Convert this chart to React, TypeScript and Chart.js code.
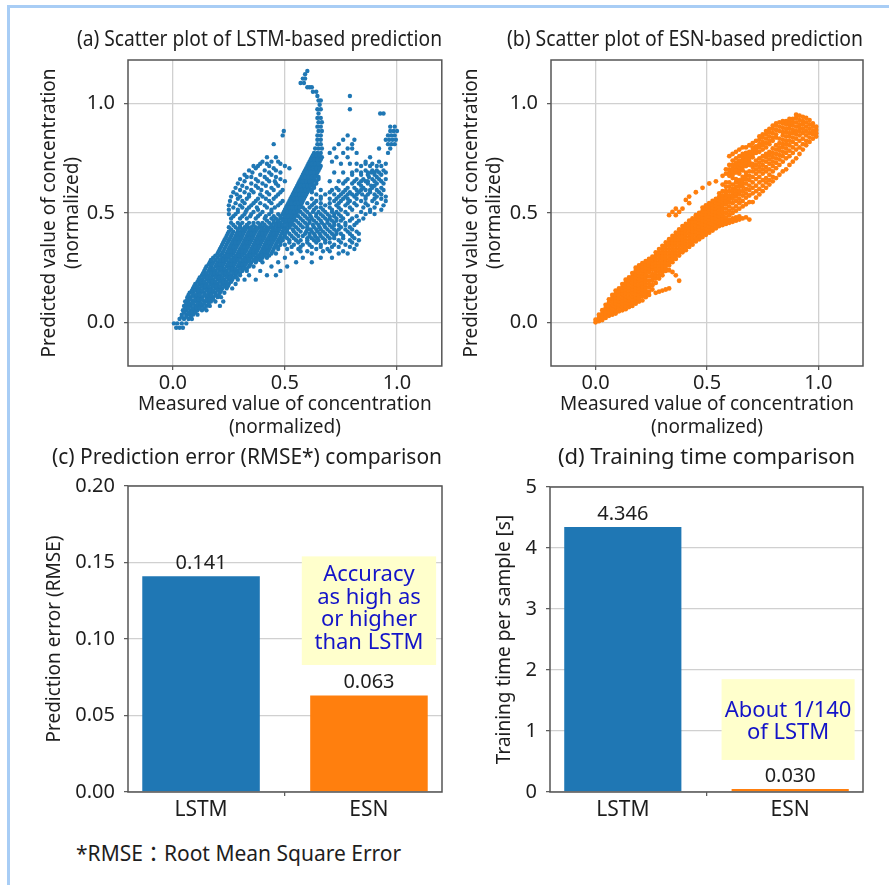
import React, { useEffect, useRef } from "react";
import { Chart, registerables } from "chart.js";

Chart.register(...registerables);

type Row = [number, number[]];

// ---------------- data ----------------
const scatterTicks = [0, 0.5, 1.0];
const barCategories = ["LSTM", "ESN"];
const barPositions = [0, 1];
const rmseValues = [0.141, 0.063];
const rmseTicks = [0, 0.05, 0.1, 0.15, 0.2];
const timeValues = [4.346, 0.03];
const timeTicks = [0, 1, 2, 3, 4, 5];
const rmseNote = ["Accuracy", "as high as", "or higher", "than LSTM"];
const timeNote = ["About 1/140", "of LSTM"];

// LSTM scatter, rows of [predicted y, measured x values]
const lstmLowerRows: Row[] = [
  [-0.025, [0.015, 0.03, 0.045]],
  [-0.005, [0.005, 0.02, 0.04, 0.06]],
  [0.015, [0.03, 0.05, 0.07, 0.085]],
  [0.035, [0.04, 0.06, 0.075, 0.09, 0.11]],
  [0.055, [0.045, 0.06, 0.08, 0.095, 0.11, 0.13, 0.15]],
  [0.075, [0.05, 0.065, 0.08, 0.1, 0.115, 0.13, 0.15, 0.165, 0.21]],
  [0.095, [0.055, 0.07, 0.09, 0.105, 0.12, 0.14, 0.155, 0.17, 0.19, 0.225]],
  [0.115, [0.065, 0.08, 0.1, 0.115, 0.13, 0.15, 0.165, 0.18, 0.2, 0.215]],
  [0.135, [0.075, 0.09, 0.11, 0.125, 0.14, 0.16, 0.175, 0.19, 0.21, 0.23]],
  [0.155, [0.09, 0.105, 0.12, 0.14, 0.155, 0.17, 0.19, 0.205, 0.22, 0.24, 0.265]],
  [0.175, [0.1, 0.12, 0.135, 0.15, 0.17, 0.185, 0.2, 0.22, 0.235, 0.25, 0.28]],
  [0.195, [0.115, 0.13, 0.15, 0.165, 0.18, 0.2, 0.215, 0.23, 0.25, 0.265, 0.29, 0.32, 0.37]],
  [0.215, [0.13, 0.145, 0.16, 0.18, 0.195, 0.21, 0.23, 0.245, 0.26, 0.28, 0.3, 0.34, 0.42, 0.46]],
  [0.235, [0.14, 0.16, 0.175, 0.19, 0.21, 0.225, 0.24, 0.26, 0.275, 0.29, 0.31, 0.33, 0.39, 0.48]],
  [0.255, [0.15, 0.17, 0.19, 0.205, 0.22, 0.24, 0.255, 0.27, 0.29, 0.305, 0.32, 0.34, 0.36, 0.44, 0.51]],
  [0.275, [0.165, 0.18, 0.2, 0.215, 0.23, 0.25, 0.265, 0.28, 0.3, 0.315, 0.33, 0.35, 0.37, 0.4, 0.47, 0.55, 0.62]],
];

const lstmLowerFillRows: Row[] = [
  [0.025, [0.04, 0.06, 0.08]],
  [0.045, [0.05, 0.07, 0.085, 0.1]],
  [0.065, [0.055, 0.07, 0.09, 0.105, 0.12, 0.14]],
  [0.085, [0.06, 0.075, 0.09, 0.11, 0.125, 0.14, 0.16]],
  [0.105, [0.065, 0.08, 0.1, 0.115, 0.13, 0.15, 0.165, 0.18]],
  [0.125, [0.07, 0.09, 0.105, 0.12, 0.14, 0.155, 0.17, 0.19, 0.205]],
  [0.145, [0.085, 0.1, 0.115, 0.13, 0.15, 0.165, 0.18, 0.2, 0.215]],
  [0.165, [0.095, 0.11, 0.13, 0.145, 0.16, 0.18, 0.195, 0.21, 0.23, 0.245]],
  [0.185, [0.11, 0.125, 0.14, 0.16, 0.175, 0.19, 0.21, 0.225, 0.24, 0.26]],
  [0.205, [0.12, 0.14, 0.155, 0.17, 0.19, 0.205, 0.22, 0.24, 0.255, 0.27, 0.285]],
  [0.225, [0.135, 0.15, 0.17, 0.185, 0.2, 0.22, 0.235, 0.25, 0.27, 0.285, 0.3]],
  [0.245, [0.145, 0.165, 0.18, 0.2, 0.215, 0.23, 0.25, 0.265, 0.28, 0.3, 0.315, 0.33]],
  [0.265, [0.16, 0.175, 0.195, 0.21, 0.225, 0.245, 0.26, 0.275, 0.295, 0.31, 0.325, 0.345]],
];

const lstmMiddleRows: Row[] = [
  [0.295, [0.18, 0.2, 0.22, 0.235, 0.25, 0.27, 0.285, 0.3, 0.32, 0.335, 0.35, 0.37, 0.385, 0.4, 0.42, 0.5, 0.58, 0.66, 0.71]],
  [0.315, [0.2, 0.22, 0.24, 0.255, 0.27, 0.29, 0.305, 0.32, 0.34, 0.355, 0.37, 0.39, 0.405, 0.42, 0.44, 0.46, 0.53, 0.62, 0.74, 0.78]],
  [0.335, [0.21, 0.23, 0.25, 0.265, 0.28, 0.3, 0.315, 0.33, 0.35, 0.365, 0.38, 0.4, 0.415, 0.43, 0.45, 0.47, 0.51, 0.56, 0.64, 0.69, 0.81]],
  [0.355, [0.22, 0.24, 0.26, 0.275, 0.29, 0.31, 0.325, 0.34, 0.36, 0.375, 0.39, 0.41, 0.425, 0.44, 0.46, 0.48, 0.5, 0.54, 0.58, 0.61, 0.66, 0.72, 0.77, 0.82]],
  [0.375, [0.23, 0.25, 0.27, 0.285, 0.3, 0.32, 0.335, 0.35, 0.37, 0.385, 0.4, 0.42, 0.435, 0.45, 0.47, 0.49, 0.52, 0.55, 0.57, 0.6, 0.63, 0.65, 0.68, 0.74, 0.79, 0.83]],
  [0.395, [0.24, 0.26, 0.28, 0.295, 0.31, 0.33, 0.345, 0.36, 0.38, 0.395, 0.41, 0.43, 0.445, 0.46, 0.48, 0.5, 0.53, 0.56, 0.58, 0.61, 0.635, 0.66, 0.69, 0.72, 0.76, 0.8]],
  [0.415, [0.25, 0.27, 0.29, 0.305, 0.32, 0.34, 0.355, 0.37, 0.39, 0.405, 0.42, 0.44, 0.455, 0.47, 0.49, 0.51, 0.54, 0.57, 0.595, 0.62, 0.645, 0.67, 0.7, 0.73, 0.78, 0.82]],
  [0.435, [0.25, 0.28, 0.3, 0.32, 0.335, 0.35, 0.37, 0.385, 0.4, 0.42, 0.435, 0.45, 0.47, 0.485, 0.5, 0.52, 0.55, 0.58, 0.6, 0.63, 0.655, 0.68, 0.71, 0.75, 0.79]],
  [0.455, [0.26, 0.29, 0.31, 0.34, 0.36, 0.38, 0.4, 0.43, 0.45, 0.465, 0.48, 0.5, 0.515, 0.53, 0.56, 0.59, 0.61, 0.64, 0.665, 0.69, 0.72, 0.77, 0.82]],
  [0.475, [0.26, 0.3, 0.33, 0.37, 0.41, 0.44, 0.46, 0.48, 0.495, 0.51, 0.525, 0.54, 0.57, 0.6, 0.62, 0.65, 0.68, 0.7, 0.73, 0.76, 0.8, 0.85]],
  [0.495, [0.25, 0.28, 0.32, 0.35, 0.39, 0.43, 0.47, 0.49, 0.505, 0.52, 0.535, 0.55, 0.58, 0.61, 0.64, 0.66, 0.69, 0.72, 0.74, 0.78, 0.86, 0.9]],
];

const lstmMiddleFillRows: Row[] = [
  [0.285, [0.17, 0.19, 0.21, 0.225, 0.24, 0.26, 0.275, 0.29, 0.31, 0.325, 0.34, 0.36, 0.375, 0.39]],
  [0.305, [0.19, 0.21, 0.23, 0.245, 0.26, 0.28, 0.295, 0.31, 0.33, 0.345, 0.36, 0.38, 0.395, 0.41, 0.43]],
  [0.325, [0.205, 0.225, 0.245, 0.26, 0.275, 0.295, 0.31, 0.325, 0.345, 0.36, 0.375, 0.395, 0.41, 0.425, 0.445]],
  [0.345, [0.215, 0.235, 0.255, 0.27, 0.285, 0.305, 0.32, 0.335, 0.355, 0.37, 0.385, 0.405, 0.42, 0.435, 0.455, 0.47]],
  [0.365, [0.225, 0.245, 0.265, 0.28, 0.295, 0.315, 0.33, 0.345, 0.365, 0.38, 0.395, 0.415, 0.43, 0.445, 0.465, 0.48]],
  [0.385, [0.235, 0.255, 0.275, 0.29, 0.305, 0.325, 0.34, 0.355, 0.375, 0.39, 0.405, 0.425, 0.44, 0.455, 0.475, 0.49, 0.6, 0.62, 0.645, 0.67]],
  [0.405, [0.245, 0.265, 0.285, 0.3, 0.315, 0.335, 0.35, 0.365, 0.385, 0.4, 0.415, 0.435, 0.45, 0.465, 0.485, 0.5, 0.59, 0.61, 0.63, 0.655, 0.68, 0.71]],
  [0.425, [0.26, 0.29, 0.31, 0.325, 0.345, 0.36, 0.375, 0.395, 0.41, 0.425, 0.445, 0.46, 0.475, 0.495, 0.51, 0.6, 0.615, 0.64, 0.66, 0.69, 0.72]],
  [0.445, [0.27, 0.3, 0.33, 0.36, 0.39, 0.41, 0.44, 0.46, 0.475, 0.49, 0.51, 0.525, 0.6, 0.625, 0.65, 0.675, 0.7]],
  [0.465, [0.42, 0.45, 0.47, 0.49, 0.505, 0.52, 0.535, 0.61, 0.63, 0.66, 0.69]],
];

// speckled region between the upper-left arc and the core
const lstmSpeckleRows: Row[] = [
  [0.485, [0.27, 0.31, 0.345, 0.38, 0.415, 0.45]],
  [0.505, [0.29, 0.325, 0.36, 0.4, 0.44]],
  [0.525, [0.27, 0.31, 0.34, 0.375, 0.42, 0.455]],
  [0.545, [0.28, 0.32, 0.36, 0.39, 0.44, 0.48]],
  [0.565, [0.29, 0.33, 0.38, 0.415, 0.45]],
  [0.585, [0.285, 0.34, 0.39, 0.43, 0.47]],
  [0.605, [0.3, 0.35, 0.395, 0.45, 0.49]],
  [0.625, [0.31, 0.37, 0.415, 0.47]],
  [0.645, [0.32, 0.38, 0.43, 0.455, 0.5]],
  [0.665, [0.33, 0.35, 0.41, 0.46]],
  [0.685, [0.355, 0.43, 0.48]],
  [0.705, [0.37, 0.45, 0.52]],
  [0.725, [0.39, 0.42, 0.48]],
];

// right lobe and right band
const lstmRightFillRows: Row[] = [
  [0.325, [0.57, 0.6, 0.67, 0.7, 0.76]],
  [0.345, [0.53, 0.57, 0.62, 0.66, 0.71, 0.74, 0.79]],
  [0.365, [0.52, 0.56, 0.6, 0.64, 0.68, 0.7, 0.75, 0.8]],
  [0.385, [0.51, 0.54, 0.7, 0.72, 0.76, 0.81]],
  [0.405, [0.52, 0.55, 0.73, 0.75, 0.79, 0.83]],
  [0.425, [0.535, 0.56, 0.74, 0.77, 0.8]],
  [0.445, [0.54, 0.57, 0.72, 0.74, 0.77, 0.81]],
  [0.465, [0.55, 0.58, 0.71, 0.73, 0.75, 0.79, 0.83]],
  [0.485, [0.56, 0.59, 0.615, 0.64, 0.67, 0.7, 0.72, 0.75, 0.82]],
  [0.505, [0.57, 0.6, 0.625, 0.65, 0.68, 0.71, 0.73, 0.77, 0.84, 0.88]],
  [0.525, [0.58, 0.61, 0.64, 0.66, 0.7, 0.74, 0.79, 0.85, 0.9]],
  [0.545, [0.6, 0.63, 0.66, 0.7, 0.74, 0.78, 0.81, 0.86, 0.91]],
  [0.565, [0.62, 0.66, 0.7, 0.73, 0.76, 0.86, 0.9, 0.93]],
  [0.585, [0.64, 0.68, 0.72, 0.75, 0.78, 0.82, 0.9, 0.93]],
  [0.605, [0.66, 0.71, 0.74, 0.77, 0.84, 0.88, 0.91, 0.94]],
  [0.645, [0.7, 0.74, 0.77, 0.81, 0.84, 0.87, 0.93]],
  [0.685, [0.72, 0.76, 0.8, 0.84, 0.87, 0.9, 0.95]],
  [0.725, [0.75, 0.79, 0.82, 0.86, 0.89, 0.95]],
];

const lstmUpperRows: Row[] = [
  [0.515, [0.25, 0.29, 0.33, 0.38, 0.44, 0.5, 0.515, 0.53, 0.545, 0.56, 0.59, 0.63, 0.67, 0.71, 0.75, 0.8, 0.88, 0.93]],
  [0.535, [0.25, 0.3, 0.35, 0.41, 0.47, 0.51, 0.525, 0.54, 0.555, 0.57, 0.62, 0.68, 0.73, 0.77, 0.82, 0.87, 0.94]],
  [0.555, [0.255, 0.31, 0.37, 0.43, 0.49, 0.52, 0.535, 0.55, 0.565, 0.58, 0.64, 0.72, 0.75, 0.79, 0.84, 0.89, 0.95]],
  [0.575, [0.26, 0.3, 0.34, 0.4, 0.46, 0.53, 0.545, 0.56, 0.575, 0.59, 0.66, 0.74, 0.77, 0.81, 0.86, 0.91, 0.95]],
  [0.595, [0.27, 0.32, 0.36, 0.42, 0.48, 0.54, 0.555, 0.57, 0.585, 0.6, 0.62, 0.7, 0.76, 0.79, 0.83, 0.88, 0.92]],
  [0.615, [0.28, 0.33, 0.38, 0.44, 0.55, 0.565, 0.58, 0.595, 0.61, 0.63, 0.73, 0.78, 0.81, 0.85, 0.89, 0.93]],
  [0.635, [0.29, 0.35, 0.4, 0.46, 0.56, 0.575, 0.59, 0.605, 0.62, 0.64, 0.76, 0.8, 0.83, 0.87, 0.91, 0.94]],
  [0.655, [0.3, 0.37, 0.42, 0.48, 0.57, 0.585, 0.6, 0.615, 0.63, 0.65, 0.78, 0.82, 0.85, 0.89, 0.92, 0.95]],
  [0.675, [0.32, 0.39, 0.44, 0.58, 0.595, 0.61, 0.625, 0.64, 0.8, 0.84, 0.87, 0.9, 0.93]],
  [0.695, [0.34, 0.41, 0.46, 0.59, 0.605, 0.62, 0.635, 0.65, 0.82, 0.86, 0.89, 0.91, 0.94]],
  [0.715, [0.36, 0.38, 0.43, 0.5, 0.6, 0.615, 0.63, 0.645, 0.66, 0.84, 0.88, 0.91, 0.93]],
  [0.735, [0.4, 0.44, 0.47, 0.61, 0.625, 0.64, 0.655, 0.71, 0.86, 0.92]],
  [0.755, [0.42, 0.46, 0.62, 0.635, 0.65, 0.665, 0.73, 0.78, 0.88]],
  [0.775, [0.63, 0.645, 0.66, 0.7, 0.76, 0.82, 0.96]],
  [0.795, [0.635, 0.65, 0.665, 0.72, 0.78, 0.8, 0.92, 0.97]],
];

const lstmRidgeFillRows: Row[] = [
  [0.485, [0.48, 0.5, 0.515, 0.53, 0.545]],
  [0.505, [0.495, 0.51, 0.525, 0.54, 0.555]],
  [0.525, [0.505, 0.52, 0.535, 0.55, 0.565]],
  [0.545, [0.515, 0.53, 0.545, 0.56, 0.575]],
  [0.565, [0.525, 0.54, 0.555, 0.57, 0.585, 0.78, 0.82]],
  [0.585, [0.535, 0.55, 0.565, 0.58, 0.595, 0.8, 0.845, 0.87]],
  [0.605, [0.545, 0.56, 0.575, 0.59, 0.605, 0.62, 0.82, 0.86]],
  [0.625, [0.555, 0.57, 0.585, 0.6, 0.615, 0.63, 0.84, 0.885, 0.9]],
  [0.645, [0.565, 0.58, 0.595, 0.61, 0.625, 0.64, 0.86, 0.9]],
  [0.665, [0.575, 0.59, 0.605, 0.62, 0.635, 0.65, 0.875, 0.91]],
  [0.685, [0.585, 0.6, 0.615, 0.63, 0.645, 0.885, 0.92]],
  [0.705, [0.595, 0.61, 0.625, 0.64, 0.655]],
  [0.725, [0.605, 0.62, 0.635, 0.65]],
  [0.745, [0.615, 0.63, 0.645, 0.66]],
  [0.765, [0.625, 0.64, 0.655]],
];

const lstmTopRows: Row[] = [
  [0.815, [0.45, 0.645, 0.66, 0.74, 0.8, 0.96, 0.975, 0.99]],
  [0.835, [0.645, 0.66, 0.76, 0.81, 0.95, 0.965, 0.98, 0.995]],
  [0.855, [0.49, 0.645, 0.66, 0.78, 0.96, 0.975, 0.99]],
  [0.875, [0.495, 0.65, 0.665, 0.97, 0.985, 1.0]],
  [0.895, [0.645, 0.66, 0.97, 0.99]],
  [0.915, [0.65, 0.665]],
  [0.935, [0.645, 0.66]],
  [0.955, [0.65, 0.925, 0.94]],
  [0.975, [0.645, 0.66, 0.79]],
  [0.995, [0.655]],
  [1.015, [0.65, 0.66]],
  [1.035, [0.645, 0.79]],
  [1.055, [0.64, 0.625]],
  [1.075, [0.61, 0.62, 0.6]],
  [1.095, [0.57, 0.585]],
  [1.115, [0.58, 0.59]],
  [1.135, [0.59]],
  [1.15, [0.6]],
];

// ESN scatter, columns of [measured x, predicted y values]
const esnLowerCols: Row[] = [
  [0.0, [0.0, 0.012]],
  [0.015, [0.005, 0.02, 0.035]],
  [0.03, [0.01, 0.025, 0.04, 0.055]],
  [0.045, [0.02, 0.035, 0.05, 0.065, 0.08]],
  [0.06, [0.03, 0.045, 0.06, 0.075, 0.09, 0.105]],
  [0.075, [0.035, 0.05, 0.065, 0.08, 0.095, 0.11, 0.125]],
  [0.09, [0.04, 0.055, 0.07, 0.085, 0.1, 0.115, 0.13, 0.145]],
  [0.105, [0.05, 0.065, 0.08, 0.095, 0.11, 0.125, 0.14, 0.155]],
  [0.12, [0.055, 0.07, 0.085, 0.1, 0.115, 0.13, 0.145, 0.16, 0.175]],
  [0.135, [0.06, 0.075, 0.09, 0.105, 0.12, 0.135, 0.15, 0.165, 0.18, 0.195]],
  [0.15, [0.07, 0.085, 0.1, 0.115, 0.13, 0.145, 0.16, 0.175, 0.19, 0.205]],
  [0.165, [0.075, 0.09, 0.105, 0.12, 0.135, 0.15, 0.165, 0.18, 0.195, 0.21, 0.225]],
  [0.18, [0.085, 0.1, 0.115, 0.13, 0.145, 0.16, 0.175, 0.19, 0.205, 0.22, 0.235, 0.25]],
  [0.195, [0.095, 0.11, 0.125, 0.14, 0.155, 0.17, 0.185, 0.2, 0.215, 0.23, 0.245, 0.26]],
  [0.21, [0.1, 0.12, 0.135, 0.15, 0.165, 0.18, 0.195, 0.21, 0.225, 0.24, 0.255, 0.27]],
  [0.225, [0.115, 0.13, 0.145, 0.16, 0.175, 0.19, 0.205, 0.22, 0.235, 0.25, 0.265, 0.28]],
  [0.24, [0.125, 0.14, 0.16, 0.175, 0.19, 0.21, 0.23, 0.245, 0.26, 0.275, 0.29]],
  [0.255, [0.15, 0.17, 0.19, 0.205, 0.22, 0.24, 0.255, 0.27, 0.285, 0.3]],
  [0.27, [0.135, 0.18, 0.2, 0.215, 0.23, 0.245, 0.26, 0.275, 0.29, 0.305, 0.32]],
  [0.285, [0.14, 0.2, 0.215, 0.23, 0.245, 0.26, 0.275, 0.29, 0.305, 0.32, 0.335]],
  [0.3, [0.145, 0.23, 0.215, 0.245, 0.26, 0.275, 0.29, 0.305, 0.32, 0.335, 0.35]],
  [0.315, [0.15, 0.235, 0.245, 0.26, 0.275, 0.29, 0.305, 0.32, 0.335, 0.35, 0.365]],
];

const esnMiddleCols: Row[] = [
  [0.33, [0.155, 0.238, 0.26, 0.275, 0.29, 0.305, 0.32, 0.335, 0.35, 0.365, 0.38, 0.49]],
  [0.345, [0.23, 0.275, 0.29, 0.305, 0.32, 0.335, 0.35, 0.365, 0.38, 0.395, 0.505]],
  [0.36, [0.215, 0.29, 0.305, 0.32, 0.335, 0.35, 0.365, 0.38, 0.395, 0.41, 0.49, 0.52]],
  [0.375, [0.19, 0.305, 0.32, 0.335, 0.35, 0.365, 0.38, 0.395, 0.41, 0.425, 0.505]],
  [0.39, [0.32, 0.335, 0.35, 0.365, 0.38, 0.395, 0.41, 0.425, 0.44, 0.52]],
  [0.405, [0.33, 0.345, 0.36, 0.375, 0.39, 0.405, 0.42, 0.435, 0.45, 0.56]],
  [0.42, [0.345, 0.36, 0.375, 0.39, 0.405, 0.42, 0.435, 0.45, 0.465, 0.545, 0.575]],
  [0.435, [0.355, 0.37, 0.385, 0.4, 0.415, 0.43, 0.445, 0.46, 0.475]],
  [0.45, [0.37, 0.385, 0.4, 0.415, 0.43, 0.445, 0.46, 0.475, 0.49, 0.595]],
  [0.465, [0.38, 0.395, 0.41, 0.425, 0.44, 0.455, 0.47, 0.485, 0.5]],
  [0.48, [0.39, 0.405, 0.42, 0.435, 0.45, 0.465, 0.48, 0.495, 0.51, 0.525, 0.615]],
  [0.495, [0.4, 0.415, 0.43, 0.445, 0.46, 0.475, 0.49, 0.505, 0.52, 0.535]],
  [0.51, [0.41, 0.425, 0.44, 0.455, 0.47, 0.485, 0.5, 0.515, 0.53, 0.545, 0.635]],
  [0.525, [0.42, 0.435, 0.45, 0.465, 0.48, 0.495, 0.51, 0.525, 0.54, 0.555]],
  [0.54, [0.43, 0.445, 0.46, 0.475, 0.49, 0.505, 0.52, 0.535, 0.55, 0.565, 0.645]],
  [0.555, [0.44, 0.455, 0.47, 0.485, 0.5, 0.515, 0.53, 0.545, 0.56, 0.575, 0.59]],
  [0.57, [0.445, 0.46, 0.475, 0.49, 0.505, 0.52, 0.535, 0.55, 0.565, 0.58, 0.6, 0.63, 0.67]],
  [0.585, [0.45, 0.465, 0.48, 0.5, 0.52, 0.54, 0.555, 0.57, 0.585, 0.6, 0.62, 0.64, 0.68, 0.7]],
  [0.6, [0.455, 0.47, 0.49, 0.51, 0.53, 0.55, 0.565, 0.58, 0.6, 0.62, 0.64, 0.67, 0.685, 0.7, 0.72, 0.76]],
  [0.615, [0.46, 0.475, 0.5, 0.52, 0.545, 0.565, 0.58, 0.595, 0.61, 0.63, 0.66, 0.675, 0.69, 0.705, 0.72, 0.74, 0.77]],
  [0.63, [0.465, 0.48, 0.51, 0.53, 0.555, 0.575, 0.59, 0.605, 0.62, 0.64, 0.655, 0.685, 0.7, 0.715, 0.73, 0.75, 0.78]],
  [0.645, [0.47, 0.485, 0.52, 0.545, 0.565, 0.585, 0.6, 0.62, 0.635, 0.65, 0.68, 0.695, 0.71, 0.725, 0.74, 0.76, 0.79]],
];

const esnUpperCols: Row[] = [
  [0.66, [0.475, 0.53, 0.555, 0.58, 0.6, 0.62, 0.635, 0.65, 0.665, 0.695, 0.71, 0.725, 0.74, 0.755, 0.77, 0.8]],
  [0.675, [0.48, 0.54, 0.57, 0.59, 0.61, 0.635, 0.655, 0.67, 0.685, 0.715, 0.73, 0.745, 0.76, 0.775, 0.8]],
  [0.69, [0.47, 0.55, 0.58, 0.605, 0.625, 0.65, 0.67, 0.69, 0.72, 0.735, 0.75, 0.765, 0.78, 0.81]],
  [0.705, [0.55, 0.59, 0.615, 0.64, 0.665, 0.69, 0.71, 0.725, 0.755, 0.77, 0.785, 0.8, 0.82]],
  [0.72, [0.57, 0.6, 0.625, 0.655, 0.68, 0.7, 0.72, 0.74, 0.775, 0.79, 0.805, 0.83]],
  [0.735, [0.585, 0.61, 0.64, 0.665, 0.69, 0.71, 0.73, 0.75, 0.78, 0.8, 0.815, 0.835, 0.85]],
  [0.75, [0.6, 0.625, 0.65, 0.68, 0.7, 0.72, 0.74, 0.76, 0.79, 0.81, 0.825, 0.845, 0.86]],
  [0.765, [0.615, 0.64, 0.66, 0.69, 0.71, 0.735, 0.755, 0.77, 0.8, 0.82, 0.84, 0.86, 0.875]],
  [0.78, [0.63, 0.65, 0.675, 0.7, 0.725, 0.745, 0.765, 0.78, 0.815, 0.83, 0.85, 0.87, 0.885]],
  [0.795, [0.645, 0.665, 0.69, 0.715, 0.735, 0.755, 0.775, 0.795, 0.83, 0.845, 0.865, 0.885, 0.9]],
  [0.81, [0.66, 0.705, 0.73, 0.75, 0.77, 0.79, 0.81, 0.845, 0.86, 0.88, 0.9, 0.91]],
  [0.825, [0.675, 0.72, 0.745, 0.765, 0.785, 0.8, 0.82, 0.84, 0.875, 0.895, 0.915]],
  [0.84, [0.69, 0.735, 0.76, 0.78, 0.8, 0.815, 0.835, 0.855, 0.87, 0.89, 0.91, 0.92]],
  [0.855, [0.7, 0.75, 0.775, 0.795, 0.815, 0.83, 0.85, 0.87, 0.885, 0.905, 0.92]],
  [0.87, [0.72, 0.76, 0.785, 0.81, 0.83, 0.85, 0.865, 0.885, 0.9, 0.915, 0.93]],
  [0.885, [0.735, 0.775, 0.8, 0.825, 0.845, 0.865, 0.88, 0.9, 0.915, 0.93]],
  [0.9, [0.75, 0.79, 0.815, 0.84, 0.86, 0.875, 0.895, 0.915, 0.935, 0.95]],
  [0.915, [0.77, 0.8, 0.83, 0.855, 0.875, 0.89, 0.905, 0.925, 0.945]],
  [0.93, [0.79, 0.815, 0.84, 0.865, 0.885, 0.905, 0.92, 0.94]],
  [0.945, [0.81, 0.83, 0.855, 0.875, 0.895, 0.915, 0.935]],
  [0.96, [0.825, 0.845, 0.865, 0.885, 0.905, 0.925]],
  [0.975, [0.84, 0.86, 0.875, 0.895, 0.91]],
  [0.99, [0.85, 0.865, 0.88, 0.895]],
];

// ---------------- style ----------------
const FONT = '"Noto Sans", "Noto Sans CJK JP", sans-serif';
const TEXT = "#1e1e1e";
const BLUE = "#1f77b4";
const ORANGE = "#ff7f0e";
const GRID = "#d0d0d0";
const FRAME = "#555555";
const NOTE_BG = "#ffffcc";
const NOTE_TEXT = "#1414c8";
const BORDER_BLUE = "#a8cdf5";

Chart.defaults.font.family = FONT;
Chart.defaults.color = TEXT;

function fromRows(rows: Row[]) {
  return rows.flatMap(([y, xs]) => xs.map((x) => ({ x, y })));
}
function fromCols(cols: Row[]) {
  return cols.flatMap(([x, ys]) => ys.map((y) => ({ x, y })));
}

const framePlugin = {
  id: "frame",
  afterDraw(chart: any) {
    const { ctx, chartArea: a } = chart;
    ctx.save();
    ctx.strokeStyle = FRAME;
    ctx.lineWidth = 1.5;
    ctx.strokeRect(a.left, a.top, a.right - a.left, a.bottom - a.top);
    ctx.restore();
  },
};

const barTextPlugin = {
  id: "barText",
  afterDatasetsDraw(chart: any, _args: any, opts: any) {
    const { ctx } = chart;
    const meta = chart.getDatasetMeta(0);
    ctx.save();
    const xs = chart.scales.x;
    const ys = chart.scales.y;
    const [x0, x1, y0, y1] = opts.box;
    const L = xs.getPixelForValue(x0);
    const R = xs.getPixelForValue(x1);
    const T = ys.getPixelForValue(y1);
    const B = ys.getPixelForValue(y0);
    ctx.fillStyle = NOTE_BG;
    ctx.fillRect(L, T, R - L, B - T);
    ctx.fillStyle = NOTE_TEXT;
    ctx.font = `22px ${FONT}`;
    ctx.textAlign = "center";
    ctx.textBaseline = "middle";
    const lines: string[] = opts.lines;
    const cx = (L + R) / 2;
    const cy = (T + B) / 2 + opts.noteShift;
    lines.forEach((ln, i) => {
      ctx.fillText(ln, cx, cy + (i - (lines.length - 1) / 2) * opts.lineHeight);
    });
    ctx.fillStyle = TEXT;
    ctx.font = `20px ${FONT}`;
    const values: number[] = opts.values;
    meta.data.forEach((bar: any, i: number) => {
      ctx.fillText(values[i].toFixed(opts.decimals), bar.x, bar.y - 13);
    });
    ctx.restore();
  },
};

const tickGrid = (onChart: boolean) => ({
  color: GRID,
  lineWidth: 1.3,
  drawOnChartArea: onChart,
  drawTicks: true,
  tickLength: 4,
  tickColor: FRAME,
  tickWidth: 1.2,
});

function titleOpts(text: string, align: string, fullSize: boolean, top: number, bottom: number) {
  return {
    display: true,
    text,
    align,
    fullSize,
    color: TEXT,
    font: { size: 22, weight: "normal", family: FONT, lineHeight: 1.2 },
    padding: { top, bottom },
  };
}

function scatterConfig(opts: {
  title: string;
  points: { x: number; y: number }[];
  color: string;
  radius: number;
  padLeft: number;
  padRight: number;
  yWidth: number;
  yTitlePad: number;
}): any {
  return {
    type: "scatter",
    data: {
      datasets: [
        {
          data: opts.points,
          backgroundColor: opts.color,
          borderWidth: 0,
          pointRadius: opts.radius,
          pointHoverRadius: opts.radius,
        },
      ],
    },
    options: {
      responsive: false,
      animation: false,
      devicePixelRatio: 1,
      events: [],
      layout: { padding: { left: opts.padLeft, right: opts.padRight, top: 0, bottom: 0 } },
      plugins: {
        legend: { display: false },
        tooltip: { enabled: false },
        title: titleOpts(opts.title, "start", true, 12.8, 6.8),
      },
      scales: {
        x: {
          type: "linear",
          min: -0.2,
          max: 1.2,
          bounds: "data",
          afterBuildTicks: (s: any) => {
            s.ticks = scatterTicks.map((v) => ({ value: v }));
          },
          afterFit: (s: any) => {
            s.height = 78;
          },
          grid: tickGrid(true),
          border: { display: false },
          ticks: {
            color: TEXT,
            font: { size: 20, family: FONT },
            padding: 1,
            maxRotation: 0,
            callback: (v: any) => Number(v).toFixed(1),
          },
          title: {
            display: true,
            text: ["Measured value of concentration", "(normalized)"],
            color: TEXT,
            font: { size: 19, family: FONT, lineHeight: 1.2 },
            padding: { top: 0, bottom: 5.3 },
          },
        },
        y: {
          type: "linear",
          min: -0.2,
          max: 1.2,
          bounds: "data",
          afterBuildTicks: (s: any) => {
            s.ticks = scatterTicks.map((v) => ({ value: v }));
          },
          afterFit: (s: any) => {
            s.width = opts.yWidth;
          },
          grid: tickGrid(true),
          border: { display: false },
          ticks: {
            color: TEXT,
            font: { size: 20, family: FONT },
            padding: 9,
            callback: (v: any) => Number(v).toFixed(1),
          },
          title: {
            display: true,
            text: ["Predicted value of concentration", "(normalized)"],
            color: TEXT,
            font: { size: 19, family: FONT, lineHeight: 1.2 },
            padding: { top: opts.yTitlePad, bottom: 0 },
          },
        },
      },
    },
    plugins: [framePlugin],
  };
}

function barConfig(opts: {
  title: string;
  titleAlign: string;
  titleFull: boolean;
  values: number[];
  yTicks: number[];
  yDecimals: number;
  yTitle: string;
  padLeft: number;
  padRight: number;
  yWidth: number;
  yTitlePad: number;
  titleBottom: number;
  note: string[];
  box: number[];
  noteShift: number;
}): any {
  const yMax = opts.yTicks[opts.yTicks.length - 1];
  return {
    type: "bar",
    data: {
      datasets: [
        {
          data: opts.values.map((v, i) => ({ x: barPositions[i], y: v })),
          backgroundColor: [BLUE, ORANGE],
          borderWidth: 0,
          barPercentage: 0.7,
          categoryPercentage: 1,
          minBarLength: 3,
        },
      ],
    },
    options: {
      responsive: false,
      animation: false,
      devicePixelRatio: 1,
      events: [],
      layout: { padding: { left: opts.padLeft, right: opts.padRight, top: 0, bottom: 0 } },
      plugins: {
        legend: { display: false },
        tooltip: { enabled: false },
        title: titleOpts(opts.title, opts.titleAlign, opts.titleFull, 0.8, opts.titleBottom),
        barText: {
          values: opts.values,
          decimals: 3,
          lines: opts.note,
          box: opts.box,
          lineHeight: 22.5,
          noteShift: opts.noteShift,
        },
      },
      scales: {
        x: {
          type: "linear",
          min: -0.435,
          max: 1.435,
          bounds: "data",
          offset: false,
          afterBuildTicks: (s: any) => {
            s.ticks = barPositions.map((v) => ({ value: v }));
          },
          afterFit: (s: any) => {
            s.height = 38;
          },
          grid: tickGrid(false),
          border: { display: false },
          ticks: {
            color: TEXT,
            font: { size: 21, family: FONT },
            padding: 1,
            maxRotation: 0,
            callback: (_v: any, i: number) => barCategories[i],
          },
        },
        y: {
          type: "linear",
          min: 0,
          max: yMax,
          bounds: "data",
          afterBuildTicks: (s: any) => {
            s.ticks = opts.yTicks.map((v) => ({ value: v }));
          },
          afterFit: (s: any) => {
            s.width = opts.yWidth;
          },
          grid: tickGrid(true),
          border: { display: false },
          ticks: {
            color: TEXT,
            font: { size: 20, family: FONT },
            padding: 9,
            callback: (v: any) => Number(v).toFixed(opts.yDecimals),
          },
          title: {
            display: true,
            text: opts.yTitle,
            color: TEXT,
            font: { size: 19, family: FONT, lineHeight: 1.2 },
            padding: { top: opts.yTitlePad, bottom: 0 },
          },
        },
      },
    },
    plugins: [framePlugin, barTextPlugin],
  };
}

function ChartCanvas(props: { left: number; top: number; width: number; height: number; make: () => any }) {
  const ref = useRef<HTMLCanvasElement | null>(null);
  useEffect(() => {
    if (!ref.current) return;
    const chart = new Chart(ref.current, props.make());
    return () => chart.destroy();
  }, []);
  return (
    <canvas
      ref={ref}
      width={props.width}
      height={props.height}
      style={{
        position: "absolute",
        left: props.left,
        top: props.top,
        width: props.width,
        height: props.height,
      }}
    />
  );
}

export default function App() {
  const lstmPoints = [
    ...fromRows(lstmLowerRows),
    ...fromRows(lstmLowerFillRows),
    ...fromRows(lstmMiddleRows),
    ...fromRows(lstmMiddleFillRows),
    ...fromRows(lstmSpeckleRows),
    ...fromRows(lstmRightFillRows),
    ...fromRows(lstmUpperRows),
    ...fromRows(lstmRidgeFillRows),
    ...fromRows(lstmTopRows),
  ];
  const esnPoints = [...fromCols(esnLowerCols), ...fromCols(esnMiddleCols), ...fromCols(esnUpperCols)];

  return (
    <div
      style={{
        position: "fixed",
        left: 0,
        top: 0,
        width: 889,
        height: 885,
        background: "#ffffff",
        overflow: "hidden",
        fontFamily: FONT,
      }}
    >
      <div style={{ position: "absolute", left: 7, top: 5, width: 882, height: 2.5, background: BORDER_BLUE }} />
      <div style={{ position: "absolute", left: 7, top: 5, width: 2.5, height: 880, background: BORDER_BLUE }} />

      <ChartCanvas
        left={20}
        top={14}
        width={424}
        height={430}
        make={() =>
          scatterConfig({
            title: "(a) Scatter plot of LSTM-based prediction",
            points: lstmPoints,
            color: BLUE,
            radius: 2.2,
            padLeft: 57,
            padRight: 2,
            yWidth: 51,
            yTitlePad: -38.5,
          })
        }
      />
      <ChartCanvas
        left={450}
        top={14}
        width={416}
        height={430}
        make={() =>
          scatterConfig({
            title: "(b) Scatter plot of ESN-based prediction",
            points: esnPoints,
            color: ORANGE,
            radius: 2.4,
            padLeft: 57,
            padRight: 3,
            yWidth: 44,
            yTitlePad: -46.4,
          })
        }
      />
      <ChartCanvas
        left={20}
        top={444}
        width={424}
        height={386}
        make={() =>
          barConfig({
            title: "(c) Prediction error (RMSE*) comparison",
            titleAlign: "start",
            titleFull: true,
            values: rmseValues,
            yTicks: rmseTicks,
            yDecimals: 2,
            yTitle: "Prediction error (RMSE)",
            padLeft: 32,
            padRight: 2,
            yWidth: 76,
            yTitlePad: -8.4,
            titleBottom: 14.8,
            note: rmseNote,
            box: [0.6, 1.4, 0.083, 0.154],
            noteShift: -2,
          })
        }
      />
      <ChartCanvas
        left={450}
        top={444}
        width={416}
        height={386}
        make={() =>
          barConfig({
            title: "(d) Training time comparison",
            titleAlign: "center",
            titleFull: false,
            values: timeValues,
            yTicks: timeTicks,
            yDecimals: 0,
            yTitle: "Training time per sample [s]",
            padLeft: 44,
            padRight: 3,
            yWidth: 56,
            yTitlePad: -0.4,
            titleBottom: 15.8,
            note: timeNote,
            box: [0.59, 1.385, 0.525, 1.85],
            noteShift: 2,
          })
        }
      />

      <div
        style={{
          position: "absolute",
          left: 76,
          top: 839,
          fontSize: 21,
          lineHeight: "28px",
          color: TEXT,
          whiteSpace: "nowrap",
        }}
      >
        *RMSE：Root Mean Square Error
      </div>
    </div>
  );
}
